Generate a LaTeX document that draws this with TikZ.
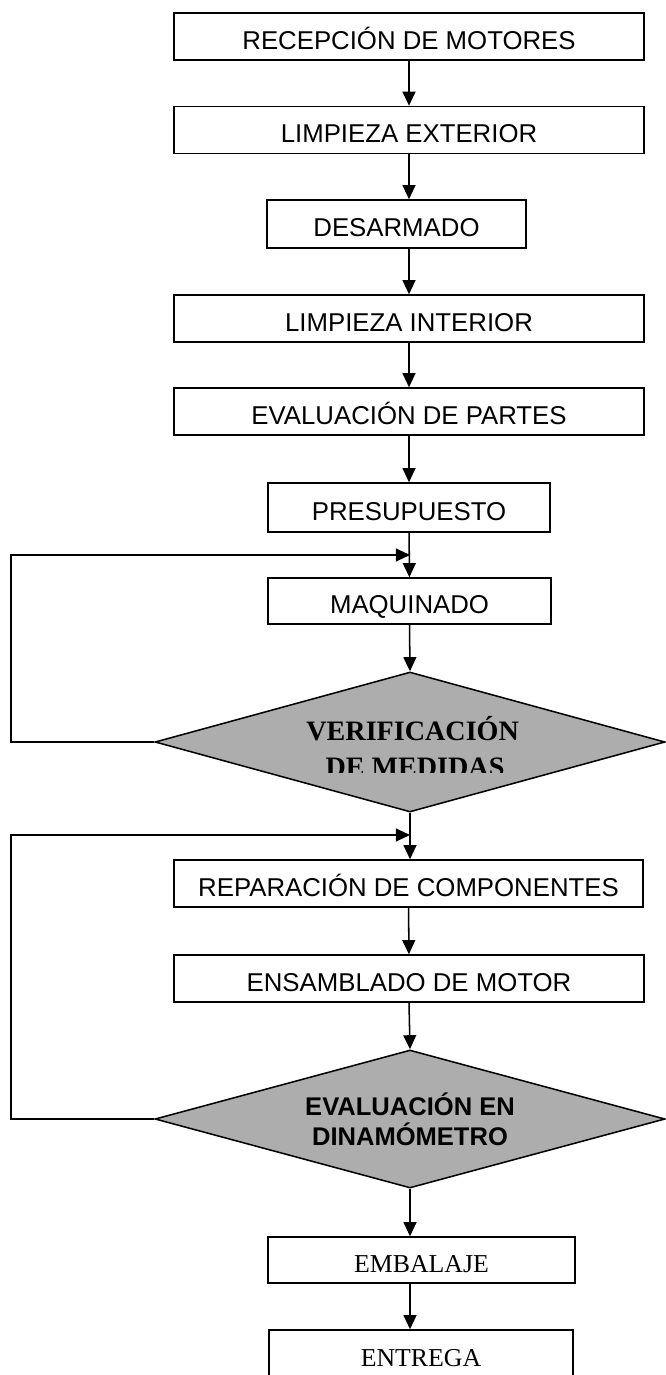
\documentclass[tikz,border=0pt]{standalone}
\usepackage{fontspec}
\setmainfont{Liberation Sans}
\newfontfamily\serifa{Liberation Serif}
\usepackage{tikz}
\usetikzlibrary{arrows.meta, shapes.geometric, calc}

\tikzset{
	paso/.style={draw, line width=1.3pt, inner sep=0pt, text height=22pt, text depth=0pt,
		minimum height=1.41cm, font=\fontsize{22}{26}\selectfont},
	pasoserif/.style={paso, font=\serifa\fontsize{22}{26}\selectfont},
	decision/.style={draw, diamond, fill=black!32, line width=1.3pt, inner sep=0pt, aspect=3.6,
		minimum width=15.3cm},
	flecha/.style={line width=1.3pt, -{Triangle[width=11pt,length=12pt]}}
}

\begin{document}
\begin{tikzpicture}
	\useasboundingbox (0,0) rectangle (19.98,-41.25);
	\node[paso, minimum width=14.1cm] (rec) at (12.27,-1.095) {RECEPCIÓN DE MOTORES};
	\node[paso, minimum width=14.1cm] (limext) at (12.27,-3.9) {LIMPIEZA EXTERIOR};
	\node[paso, minimum width=7.77cm, minimum height=1.44cm] (desarm) at (11.895,-6.72) {DESARMADO};
	\node[paso, minimum width=14.1cm] (limint) at (12.27,-9.555) {LIMPIEZA INTERIOR};
	\node[paso, minimum width=14.1cm] (evalp) at (12.27,-12.345) {EVALUACIÓN DE PARTES};
	\node[paso, minimum width=8.46cm, minimum height=1.47cm] (presup) at (12.27,-15.225) {PRESUPUESTO};
	\node[paso, minimum width=8.49cm, minimum height=1.38cm] (maq) at (12.285,-18.03) {MAQUINADO};
	\node[decision, minimum height=4.2cm] (verif) at (12.3,-22.26) {};
	\begin{scope}
		\clip (4.8,-20.3) rectangle (19.8,-23.16); % second line is cut off
		\node[anchor=base, inner sep=0pt, font=\serifa\bfseries\fontsize{24}{30}\selectfont] (verif1) at (12.38,-22.2) {VERIFICACIÓN};
		\node[anchor=base, inner sep=0pt, font=\serifa\bfseries\fontsize{24}{30}\selectfont] (verif2) at (12.45,-23.28) {DE MEDIDAS};
	\end{scope}
	\node[paso, minimum width=14.07cm] (rep) at (12.255,-26.505) {REPARACIÓN DE COMPONENTES};
	\node[paso, minimum width=14.1cm] (ens) at (12.27,-29.355) {ENSAMBLADO DE MOTOR};
	\node[decision, minimum height=4.14cm, align=center,
		font=\bfseries\fontsize{21.8}{25.5}\selectfont] (evald) at (12.3,-33.57) {EVALUACIÓN EN\\DINAMÓMETRO};
	\node[pasoserif, minimum width=9.21cm, minimum height=1.38cm] (emb) at (12.645,-37.8) {EMBALAJE};
	\node[pasoserif, minimum width=9.12cm] (ent) at (12.63,-40.605) {ENTREGA};

	\draw[flecha] (rec) -- (limext);
	\draw[flecha] (limext.south) -- (limext.south |- desarm.north);
	\draw[flecha] (limint.north |- desarm.south) -- (limint.north);
	\draw[flecha] (limint) -- (evalp);
	\draw[flecha] (evalp) -- (presup);
	\draw[flecha] (presup) -- (maq);
	\draw[flecha] (maq.south) -- (verif.north);
	\draw[flecha] (verif.south) -- (verif.south |- rep.north);
	\draw[flecha] (rep) -- (ens);
	\draw[flecha] (ens.south) -- (evald.north);
	\draw[flecha] (evald.south) -- (evald.south |- emb.north);
	\draw[flecha] (evald.south |- emb.south) -- (evald.south |- ent.north);

	% return loops
	\coordinate (izq1) at (0.33,-16.65);
	\coordinate (der1) at (12.3,-16.65);
	\coordinate (izq2) at (0.33,-25.05);
	\coordinate (der2) at (12.3,-25.05);
	\draw[flecha] (verif.west) -| (izq1) -- (der1);
	\draw[flecha] (evald.west) -| (izq2) -- (der2);
\end{tikzpicture}
\end{document}
